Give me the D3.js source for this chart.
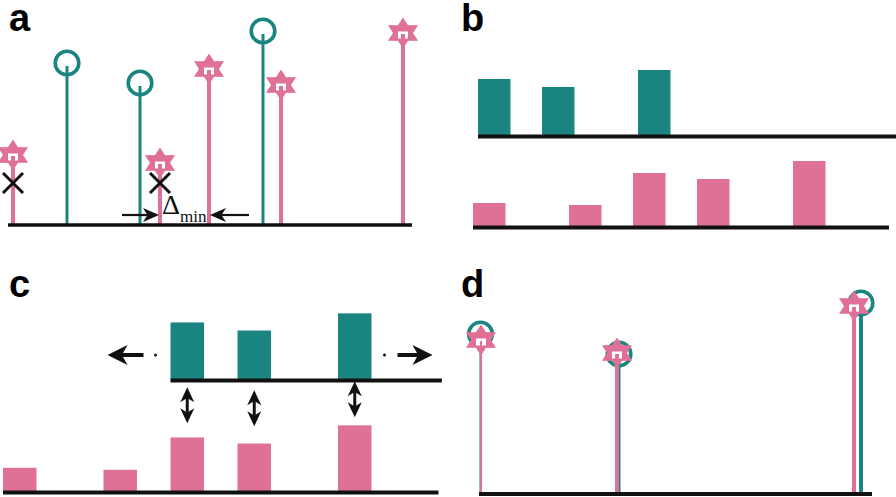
<!DOCTYPE html>
<html><head><meta charset="utf-8">
<script src="https://cdn.jsdelivr.net/npm/d3@7"></script>
<style>html,body{margin:0;padding:0;background:#fff}svg{display:block}</style>
</head><body>
<svg id="chart" width="896" height="497"></svg>
<script>
const TEAL = "#1a8580", PINK = "#df7098", INK = "#111";

// Panel a: raw peak lists (position units, relative intensity %)
const aPinkMz  = [5, 152, 201, 273, 395];
const aPinkInt = [35, 31, 78, 70, 96];
const aTealMz  = [59, 132, 255];
const aTealInt = [80, 70, 96];
const aRemovedPeaks = [0, 1];     // pink peaks crossed out
const aRemovedLevel = 21;
const deltaMinPeaks = [1, 2];     // pink peaks bracketing Δmin
const deltaLevel = 5;

// Panels b / c: binned spectra
const pinkBins   = [0, 3, 5, 7, 10];
const pinkBinInt = [23, 21, 53, 47, 65];
const tealBins   = [0, 2, 5];
const tealBinInt = [56, 48, 65];
const binShift = 5;
const pinkAxisBins = 13, tealAxisBins = 13.1;

// Panel d: aligned peaks
const dPinkMz  = [2, 138, 375];
const dPinkInt = [77, 70.5, 94];
const dTealMz  = [1.5, 140, 382];
const dTealInt = [79, 69, 94.5];
const dAxisMax = 393;

const panelLabels = ["a", "b", "c", "d"];

const svg = d3.select("#chart");

// ---------- helpers ----------
function hexagram(R) {
  const r = R / Math.sqrt(3), pts = [];
  for (let k = 0; k < 12; k++) {
    const ang = (-90 + k * 30) * Math.PI / 180;
    const rad = k % 2 === 0 ? R : r;
    pts.push([rad * Math.cos(ang), rad * Math.sin(ang)]);
  }
  return "M" + pts.map(p => p.join(",")).join("L") + "Z";
}
function headPath(tx, ty, angle, L, W) {
  const c = Math.cos(angle), s = Math.sin(angle);
  const local = [[0, 0], [-L, -W], [-0.72 * L, 0], [-L, W]];
  return "M" + local.map(([x, y]) => [tx + x * c - y * s, ty + x * s + y * c].join(",")).join("L") + "Z";
}
function arrow(g, x0, y0, x1, y1, sw, L, W) {
  const a = Math.atan2(y1 - y0, x1 - x0);
  g.append("line").attr("x1", x0).attr("y1", y0)
    .attr("x2", x1 - Math.cos(a) * L * 0.7).attr("y2", y1 - Math.sin(a) * L * 0.7)
    .attr("stroke", INK).attr("stroke-width", sw);
  g.append("path").attr("d", headPath(x1, y1, a, L, W)).attr("fill", INK);
}
function doubleArrow(g, x, y0, y1, sw, L, W) {
  g.append("line").attr("x1", x).attr("x2", x).attr("y1", y0 + L * 0.7).attr("y2", y1 - L * 0.7)
    .attr("stroke", INK).attr("stroke-width", sw);
  g.append("path").attr("d", headPath(x, y0, -Math.PI / 2, L, W)).attr("fill", INK);
  g.append("path").attr("d", headPath(x, y1, Math.PI / 2, L, W)).attr("fill", INK);
}
function baseline(g, x0, x1, y, w) {
  g.append("line").attr("x1", x0).attr("x2", x1).attr("y1", y).attr("y2", y)
    .attr("stroke", INK).attr("stroke-width", w);
}
function tealStems(g, xs, ys, xScale, yScale, widths) {
  xs.forEach((v, i) => {
    const x = xScale(v), y = yScale(ys[i]);
    g.append("line").attr("x1", x).attr("x2", x).attr("y1", yScale(0)).attr("y2", y + 1)
      .attr("stroke", TEAL).attr("stroke-width", widths[i]);
    g.append("circle").attr("cx", x).attr("cy", y - 2).attr("r", 11.8)
      .attr("fill", "none").attr("stroke", TEAL).attr("stroke-width", 3.6);
  });
}
function pinkStems(g, xs, ys, xScale, yScale, widths) {
  xs.forEach((v, i) => {
    const x = xScale(v), y = yScale(ys[i]);
    g.append("path").attr("d", hexagram(14.3)).attr("transform", `translate(${x},${y}) scale(1.12,1)`)
      .attr("fill", PINK).attr("stroke", PINK).attr("stroke-width", 1.2);
    g.append("rect").attr("x", x - 5).attr("y", y - 1.5).attr("width", 10).attr("height", 7)
      .attr("fill", "#fff");
    g.append("line").attr("x1", x).attr("x2", x).attr("y1", yScale(0)).attr("y2", y + 1)
      .attr("stroke", PINK).attr("stroke-width", widths[i]);
  });
}

// ---------- panel a ----------
{
  const g = svg.append("g");
  const x = d3.scaleLinear().domain([0, 400]).range([8, 408]);
  const y = d3.scaleLinear().domain([0, 100]).range([225, 25]);
  tealStems(g, aTealMz, aTealInt, x, y, aTealMz.map(() => 3));
  pinkStems(g, aPinkMz, aPinkInt, x, y, aPinkMz.map(() => 4));
  baseline(g, x(0), x(404), y(0), 3.5);
  aRemovedPeaks.forEach(i => {
    const cx = x(aPinkMz[i]), cy = y(aRemovedLevel), h = 10;
    g.append("path").attr("d", `M${cx - h},${cy - h}L${cx + h},${cy + h}M${cx - h},${cy + h}L${cx + h},${cy - h}`)
      .attr("stroke", INK).attr("stroke-width", 3).attr("fill", "none");
  });
  const xl = x(aPinkMz[deltaMinPeaks[0]]), xr = x(aPinkMz[deltaMinPeaks[1]]), yd = y(deltaLevel);
  arrow(g, xl - 38, yd, xl - 1, yd, 2.2, 16, 7);
  arrow(g, xr + 40, yd, xr + 1, yd, 2.2, 16, 7);
  const t = g.append("text").attr("x", xl + 2).attr("y", yd - 1)
    .attr("font-family", "Liberation Serif, Times New Roman, serif").attr("fill", INK);
  t.append("tspan").attr("font-size", 28).text("Δ");
  t.append("tspan").attr("font-size", 17).attr("dy", 8).text("min");
}

// ---------- panel b ----------
{
  const g = svg.append("g");
  const xP = d3.scaleLinear().domain([0, 1]).range([473, 505]);
  const xT = d3.scaleLinear().domain([0, 1]).range([478, 510]);
  const yT = d3.scaleLinear().domain([0, 100]).range([135, 35]);
  const yP = d3.scaleLinear().domain([0, 100]).range([226, 126]);
  const bw = 32.5;
  g.selectAll(".bt").data(tealBins).join("rect")
    .attr("x", d => xT(d)).attr("width", bw)
    .attr("y", (d, i) => yT(tealBinInt[i])).attr("height", (d, i) => yT(0) - yT(tealBinInt[i]))
    .attr("fill", TEAL);
  g.selectAll(".bp").data(pinkBins).join("rect")
    .attr("x", d => xP(d)).attr("width", bw)
    .attr("y", (d, i) => yP(pinkBinInt[i])).attr("height", (d, i) => yP(0) - yP(pinkBinInt[i]))
    .attr("fill", PINK);
  baseline(g, xT(0), xT(tealAxisBins), yT(0) + 1.5, 4);
  baseline(g, xP(0), xP(pinkAxisBins), yP(0) + 1.5, 4);
}

// ---------- panel c ----------
{
  const g = svg.append("g");
  const x = d3.scaleLinear().domain([0, 1]).range([3, 36.5]);
  const yT = d3.scaleLinear().domain([0, 100]).range([379, 278]);
  const yP = d3.scaleLinear().domain([0, 100]).range([491, 390]);
  const bw = 33.5;
  g.selectAll(".bt").data(tealBins).join("rect")
    .attr("x", d => x(d + binShift)).attr("width", bw)
    .attr("y", (d, i) => yT(tealBinInt[i])).attr("height", (d, i) => yT(0) - yT(tealBinInt[i]))
    .attr("fill", TEAL);
  g.selectAll(".bp").data(pinkBins).join("rect")
    .attr("x", d => x(d)).attr("width", bw)
    .attr("y", (d, i) => yP(pinkBinInt[i])).attr("height", (d, i) => yP(0) - yP(pinkBinInt[i]))
    .attr("fill", PINK);
  baseline(g, x(binShift), x(tealAxisBins), yT(0) + 1.5, 4);
  baseline(g, x(0), x(pinkAxisBins), yP(0) + 1.5, 4);
  // sliding arrows
  const left = x(tealBins[0] + binShift), right = x(tealBins[tealBins.length - 1] + binShift) + bw;
  const ya = yT(0) - 24;
  g.append("circle").attr("cx", left - 15).attr("cy", ya).attr("r", 1.5).attr("fill", INK);
  g.append("circle").attr("cx", right + 13).attr("cy", ya).attr("r", 1.5).attr("fill", INK);
  arrow(g, left - 27, ya, left - 63, ya, 4, 20, 10);
  arrow(g, right + 26, ya, right + 61, ya, 4, 20, 10);
  // comparison arrows
  tealBins.forEach((b, i) => {
    const pi = pinkBins.indexOf(b + binShift);
    const cx = x(b + binShift) + bw / 2;
    const mid = (yT(0) + yP(pinkBinInt[pi])) / 2 - 3;
    doubleArrow(g, cx, mid - 18, mid + 18, 3, 15, 7);
  });
}

// ---------- panel d ----------
{
  const g = svg.append("g");
  const x = d3.scaleLinear().domain([0, 400]).range([479, 879]);
  const y = d3.scaleLinear().domain([0, 100]).range([494, 294]);
  tealStems(g, dTealMz, dTealInt, x, y, [2, 3, 4]);
  pinkStems(g, dPinkMz, dPinkInt, x, y, [2, 4, 4]);
  baseline(g, x(0), x(dAxisMax), y(0), 4);
}

// ---------- panel labels ----------
svg.selectAll(".lbl").data(panelLabels).join("text")
  .attr("x", (d, i) => (i % 2 === 0 ? 9 : 461))
  .attr("y", (d, i) => (i < 2 ? 31 : 297))
  .attr("font-family", "Liberation Sans, Arial, sans-serif")
  .attr("font-weight", "bold").attr("font-size", 38).attr("fill", "#000")
  .text(d => d);
</script>
</body></html>
